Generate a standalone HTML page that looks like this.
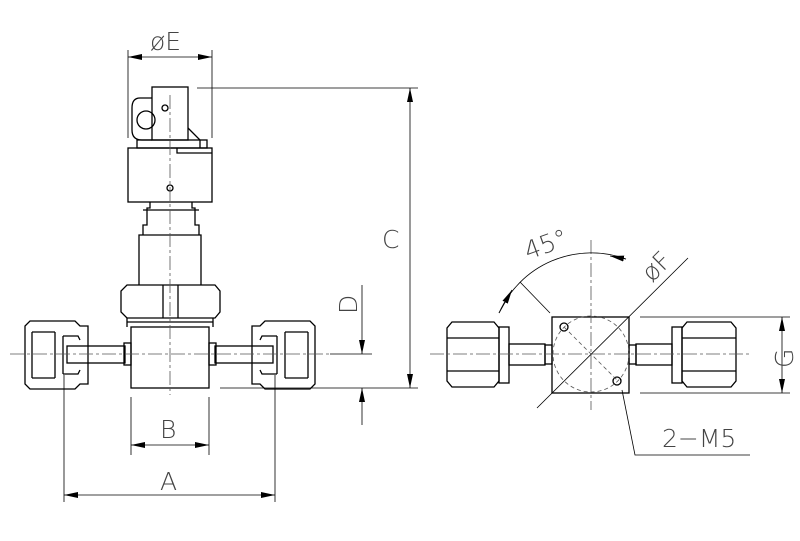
<!DOCTYPE html>
<html><head><style>body{margin:0;background:#fff}svg{display:block}text{font-family:"DejaVu Sans","Liberation Sans",sans-serif;font-weight:200;fill:#444}</style></head><body>
<svg width="800" height="541" viewBox="0 0 800 541" xmlns="http://www.w3.org/2000/svg">
<defs><marker id="a" markerWidth="14" markerHeight="6" refX="14" refY="3" orient="auto" markerUnits="userSpaceOnUse"><path d="M0,0L14,3L0,6z" fill="#000"/></marker>
<marker id="b" markerWidth="14" markerHeight="6" refX="0" refY="3" orient="auto" markerUnits="userSpaceOnUse"><path d="M14,0L0,3L14,6z" fill="#000"/></marker></defs>
<g fill="none" stroke="#000" stroke-width="1.3">
<rect x="152" y="87" width="36" height="53"/>
<path d="M152,98 H140 Q132,98 132,108 V130 Q132,140 142,140 H152"/>
<circle cx="146" cy="120" r="9"/>
<path d="M188,128 L200,140 V148"/>
<rect x="137" y="140" width="70" height="8"/>
<rect x="128" y="148" width="84" height="54"/>
<path d="M177,148 V153 H212"/>
<circle cx="170" cy="188" r="3"/><circle cx="165" cy="108" r="3"/>
<path d="M150,202 V208 H147 V225 H143 V235 H139 V285 M192,202 V208 H195 V225 H199 V235 H201 V285 M143,210 H199 M139,235 H201"/>
<path d="M127,285 H215 L220,291 V312 L215,318 H127 L121,312 V291 Z"/>
<path d="M163,285 V318 M178,285 V318 M127,318 V327 M213,318 V327 M127,322 H213"/>
<rect x="131" y="327" width="78" height="61"/>
<path d="M30,321 H75 L80,326 H88 V384 H80 L75,389 H30 L25,384 V326 Z"/>
<path d="M32,332 V378 M55,332 V378 M32,332 H55 M32,378 H55"/>
<path d="M63,336 H78 L80,340 M63,374 H78 L80,370 M63,336 V374"/>
<rect x="67" y="346" width="58" height="17"/>
<rect x="124" y="343" width="7" height="22"/>
<path d="M310,321 H265 L260,326 H252 V384 H260 L265,389 H310 L315,384 V326 Z"/>
<path d="M308,332 V378 M285,332 V378 M285,332 H308 M285,378 H308"/>
<path d="M277,336 H262 L260,340 M277,374 H262 L260,370 M277,336 V374"/>
<rect x="215" y="346" width="58" height="17"/>
<rect x="209" y="343" width="7" height="22"/>
<rect x="552" y="317" width="77" height="76"/>
<circle cx="564" cy="327" r="4"/><circle cx="617" cy="381" r="4"/>
<path d="M452,322 H494 L499,328 V381 L494,387 H452 L447,381 V328 Z M447,338 H499 M447,371 H499"/>
<rect x="499" y="327" width="10" height="56"/>
<rect x="509" y="344" width="36" height="21"/>
<rect x="545" y="345" width="7" height="19"/>
<path d="M687,322 H731 L736,328 V381 L731,387 H687 L682,381 V328 Z M682,338 H736 M682,371 H736"/>
<rect x="672" y="327" width="10" height="56"/>
<rect x="636" y="344" width="36" height="21"/>
<rect x="629" y="345" width="7" height="19"/>
</g>
<g fill="none" stroke="#555" stroke-width="0.8" stroke-dasharray="14,3,3,3">
<path d="M170,95 V395 M10,354 H330 M430,354 H750 M591,240 V410"/>
<circle cx="591" cy="354" r="38" stroke-dasharray="4,3"/>
<path d="M564,327 L618,381" stroke-dasharray="4,3"/>
</g>
<g fill="none" stroke="#000" stroke-width="0.8">
<path d="M128,50 V138 M212,50 V138"/>
<path d="M128,57 H212" marker-start="url(#b)" marker-end="url(#a)"/>
<path d="M197,88 H418 M220,388 H418"/>
<path d="M410,88 V388" marker-start="url(#b)" marker-end="url(#a)"/>
<path d="M330,354 H372"/>
<path d="M362,285 V354" marker-end="url(#a)"/>
<path d="M362,425 V388" marker-end="url(#a)"/>
<path d="M131,397 V455 M209,397 V455"/>
<path d="M131,445 H209" marker-start="url(#b)" marker-end="url(#a)"/>
<path d="M64,375 V502 M275,375 V502"/>
<path d="M64,495 H275" marker-start="url(#b)" marker-end="url(#a)"/>
<path d="M640,317 H790 M640,393 H790"/>
<path d="M782,317 V393" marker-start="url(#b)" marker-end="url(#a)"/>
<path d="M537,408 L688,258"/>
<path d="M520,282 L550,313"/>
<path d="M499,313 A101,101 0 0 1 626,259"/>
<path d="M499,313 L512,290" marker-end="url(#a)"/>
<path d="M610,256 L626,259" marker-start="url(#b)"/>
<path d="M622,390 L635,455 H750"/>
</g>
<g font-size="25">
<text x="150" y="50">øE</text>
<text x="382" y="248">C</text>
<text x="160" y="438">B</text>
<text x="160" y="490">A</text>
<text transform="translate(357,314) rotate(-90)">D</text>
<text transform="translate(793,368) rotate(-90)">G</text>
<text transform="translate(528,260) rotate(-20)">45°</text>
<text transform="translate(652,283) rotate(-45)">øF</text>
<text x="662" y="447">2−M5</text>
</g>
</svg>
</body></html>
